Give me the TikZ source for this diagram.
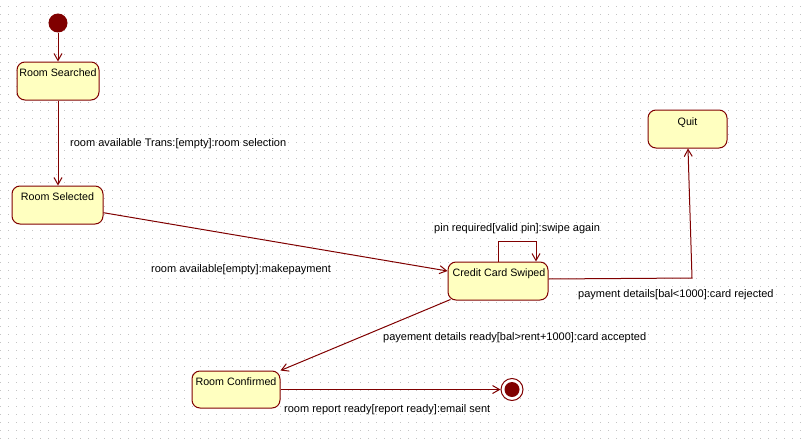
\documentclass[tikz,border=0pt]{standalone}
\usepackage{fontspec}
\setmainfont{Liberation Sans}
\usetikzlibrary{arrows.meta}
\definecolor{maroon}{HTML}{800000}
\definecolor{stfill}{HTML}{FFFFC0}
\definecolor{gridc}{HTML}{C4C4C4}
\begin{document}
\begin{tikzpicture}[x=1pt,y=-1pt,
  statebox/.style={draw=maroon, fill=stfill, line width=1pt, rounded corners=8pt, inner sep=0pt},
  stlabel/.style={anchor=base, font=\fontsize{10.7}{12}\selectfont, inner sep=0pt},
  trlabel/.style={anchor=base west, font=\fontsize{11}{12}\selectfont, inner sep=0pt},
  trans/.style={draw=maroon, line width=1pt, -{Straight Barb[length=7pt,width=8pt]}},
]
% background and grid
\fill[white] (0,0) rectangle (802,444);
\useasboundingbox (0,0) rectangle (802,444);
\foreach \gx in {0,8,...,800} {
  \foreach \gy in {6,14,...,438} {
    \fill[gridc] (\gx,\gy) rectangle ++(1,1);
  }
}
% states
\node[circle, fill=maroon, minimum size=19pt, inner sep=0pt] (init) at (58,23) {};
\node[statebox, minimum width=82pt, minimum height=38pt] (rs) at (58,81) {};
\node[stlabel] (rsl) at (58,76) {Room Searched};
\node[statebox, minimum width=91pt, minimum height=38pt] (rsel) at (57.5,205) {};
\node[stlabel] (rsell) at (57.5,200) {Room Selected};
\node[statebox, minimum width=100pt, minimum height=38pt] (ccs) at (498,281) {};
\node[stlabel] (ccsl) at (499,276) {Credit Card Swiped};
\node[statebox, minimum width=79pt, minimum height=38pt] (quit) at (687.5,129) {};
\node[stlabel] (quitl) at (687.5,125) {Quit};
\node[statebox, minimum width=88pt, minimum height=37pt] (rc) at (236,389.5) {};
\node[stlabel] (rcl) at (236,385) {Room Confirmed};
\node[circle, draw=maroon, fill=white, line width=1pt, minimum size=22pt, inner sep=0pt] (final) at (512,389.5) {};
\node[circle, fill=maroon, minimum size=15pt, inner sep=0pt] (finalin) at (512,389.5) {};
% transitions
\draw[trans] (init) -- (rs.north);
\draw[trans] (rs.south) -- (rs.south |- rsel.north);
\draw[trans] ([yshift=-7.7pt]rsel.east) -- ([yshift=10pt]ccs.west);
\draw[trans] (ccs.north) -- ++(0,-20) -- ++(38,0) -- ([xshift=38pt]ccs.north);
\coordinate (qcorner) at (692,278);
\draw[trans] ([yshift=2pt]ccs.east) -- (qcorner) -- ([xshift=0.5pt]quit.south);
\draw[trans] ([xshift=3pt,yshift=1pt]ccs.south west) -- (rc.north east);
\draw[trans] (rc.east) -- (final.west);
% labels
\node[trlabel] (l1) at (70,146) {room available Trans:[empty]:room selection};
\node[trlabel] (l2) at (434,231) {pin required[valid pin]:swipe again};
\node[trlabel] (l3) at (151,272) {room available[empty]:makepayment};
\node[trlabel] (l4) at (578,297) {payment details[bal<1000]:card rejected};
\node[trlabel] (l5) at (383,340) {payement details ready[bal>rent+1000]:card accepted};
\node[trlabel] (l6) at (284,412) {room report ready[report ready]:email sent};
\end{tikzpicture}
\end{document}
